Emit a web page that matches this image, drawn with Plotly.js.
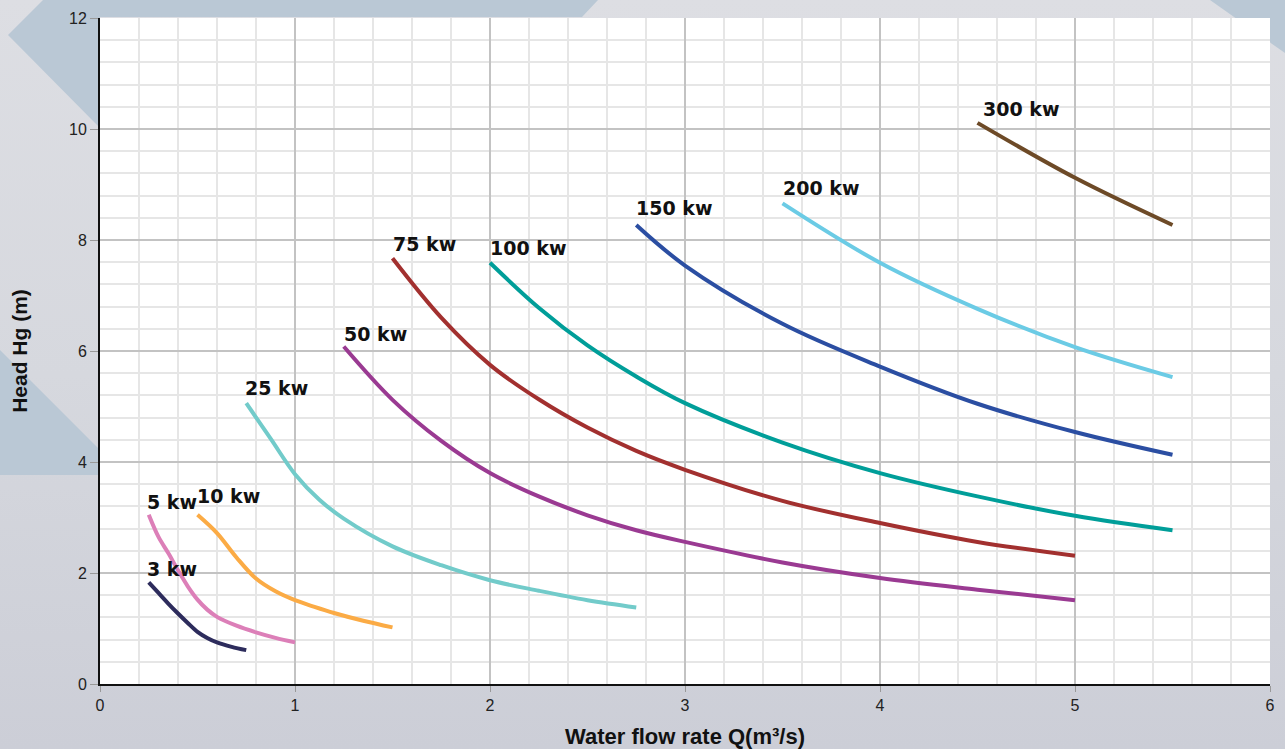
<!DOCTYPE html>
<html>
<head>
<meta charset="utf-8">
<script src="https://cdn.plot.ly/plotly-3.0.1.min.js"></script>
<style>
  html, body { margin:0; padding:0; width:1285px; height:749px; overflow:hidden; }
  body { background: linear-gradient(to bottom, #dddee3 0%, #d6d8de 50%, #ccced7 100%); position:relative; }
  #bg { position:absolute; left:0; top:0; width:1285px; height:749px; z-index:0; }
  #chart { position:absolute; left:0; top:0; width:1285px; height:749px; z-index:1; }
</style>
</head>
<body>
<svg id="bg" width="1285" height="749" xmlns="http://www.w3.org/2000/svg">
  <polygon points="43,0 598,0 582,17 100,17 100,128 8,35" fill="#bac8d5"/>
  <polygon points="0,350 100,450 100,475 0,475" fill="#bac8d5"/>
  <polygon points="1210,0 1285,0 1285,53" fill="#bac8d5"/>
</svg>
<div id="chart"></div>
<script>
// Series names
const seriesNames = ["3 kw","5 kw","10 kw","25 kw","50 kw","75 kw","100 kw","150 kw","200 kw","300 kw"];

// Water flow rate Q (m3/s) and head Hg (m)
const q3   = [0.25,0.30,0.35,0.40,0.45,0.50,0.55,0.60,0.675,0.75];
const h3   = [1.83,1.64,1.45,1.27,1.10,0.94,0.83,0.75,0.67,0.61];
const q5   = [0.25,0.30,0.35,0.40,0.45,0.50,0.55,0.60,0.70,0.80,0.90,1.00];
const h5   = [3.05,2.65,2.36,2.05,1.76,1.52,1.34,1.21,1.05,0.93,0.83,0.75];
const q10  = [0.50,0.60,0.70,0.80,0.90,1.00,1.10,1.20,1.35,1.50];
const h10  = [3.05,2.72,2.28,1.90,1.67,1.51,1.39,1.28,1.14,1.02];
const q25  = [0.75,0.875,1.00,1.125,1.25,1.50,1.75,2.00,2.25,2.50,2.75];
const h25  = [5.06,4.42,3.78,3.32,2.98,2.48,2.14,1.87,1.68,1.51,1.38];
const q50  = [1.25,1.50,1.75,2.00,2.25,2.50,2.75,3.00,3.50,4.00,4.50,5.00];
const h50  = [6.08,5.12,4.38,3.80,3.38,3.04,2.77,2.56,2.19,1.91,1.70,1.51];
const q75  = [1.50,1.75,2.00,2.25,2.50,2.75,3.00,3.50,4.00,4.50,5.00];
const h75  = [7.67,6.60,5.75,5.13,4.62,4.20,3.86,3.30,2.90,2.56,2.31];
const q100 = [2.00,2.25,2.50,2.75,3.00,3.50,4.00,4.50,5.00,5.50];
const h100 = [7.59,6.78,6.10,5.54,5.06,4.35,3.80,3.38,3.03,2.77];
const q150 = [2.75,3.00,3.50,4.00,4.50,5.00,5.50];
const h150 = [8.27,7.54,6.49,5.72,5.05,4.54,4.13];
const q200 = [3.50,4.00,4.50,5.00,5.50];
const h200 = [8.66,7.59,6.76,6.07,5.53];
const q300 = [4.50,5.00,5.50];
const h300 = [10.11,9.12,8.27];

const xTicks = [0,1,2,3,4,5,6];
const yTicks = [0,2,4,6,8,10,12];

const qs = [q3,q5,q10,q25,q50,q75,q100,q150,q200,q300];
const hs = [h3,h5,h10,h25,h50,h75,h100,h150,h200,h300];
const colors = ["#2d2c5c","#dc7fb8","#fbab45","#72cbca","#9a3a92","#a2302f","#009e99","#2b4ea2","#6bcbe5","#6d4a27"];
const labelShiftX = [-4,-4,-3,-3,-2,-2,-2,-2,-2,3];
const labelShiftY = [0,0,6,2,0,1,2,4,2,1];

const traces = qs.map((q,i) => ({
  x: q, y: hs[i], type:'scatter', mode:'lines', name: seriesNames[i],
  line: {color: colors[i], width: 4, shape:'spline', smoothing: 1},
  hoverinfo:'x+y+name'
}));

const annotations = seriesNames.map((n,i) => ({
  x: qs[i][0], y: hs[i][0], xref:'x', yref:'y', text: n, showarrow:false,
  xanchor:'left', yanchor:'bottom', xshift: labelShiftX[i], yshift: labelShiftY[i],
  font: {family:'DejaVu Sans', size:19, color:'#111', weight:'bold'}
}));

const layout = {
  width:1285, height:749,
  margin:{l:100, r:15, t:18, b:65, pad:0},
  paper_bgcolor:'rgba(0,0,0,0)',
  plot_bgcolor:'#ffffff',
  showlegend:false,
  font:{family:'Liberation Sans, Arial, sans-serif', color:'#222'},
  xaxis:{
    range:[0,6], tickvals:xTicks, ticktext:xTicks.map(String),
    showline:true, linecolor:'#111', linewidth:2,
    showgrid:true, gridcolor:'#c3c3c3', gridwidth:2,
    zeroline:false,
    ticks:'outside', ticklen:6, tickcolor:'#999', tickwidth:1,
    tickfont:{size:16, color:'#222'},
    minor:{dtick:0.2, showgrid:true, gridcolor:'#e6e6e6', gridwidth:2, ticks:''},
    title:{text:'Water flow rate Q(m³/s)', font:{size:22, color:'#111', weight:'bold'}, standoff:15}
  },
  yaxis:{
    range:[0,12], tickvals:yTicks, ticktext:yTicks.map(String),
    showline:true, linecolor:'#111', linewidth:2,
    showgrid:true, gridcolor:'#c3c3c3', gridwidth:2,
    zeroline:false,
    ticks:'outside', ticklen:8, tickcolor:'#999', tickwidth:1,
    tickfont:{size:16, color:'#222'},
    minor:{dtick:0.4, showgrid:true, gridcolor:'#e6e6e6', gridwidth:2, ticks:''},
    title:{text:'Head Hg (m)', font:{size:21, color:'#111', weight:'bold'}, standoff:36}
  },
  annotations: annotations
};

Plotly.newPlot('chart', traces, layout, {displayModeBar:false, staticPlot:true});
</script>
</body>
</html>
